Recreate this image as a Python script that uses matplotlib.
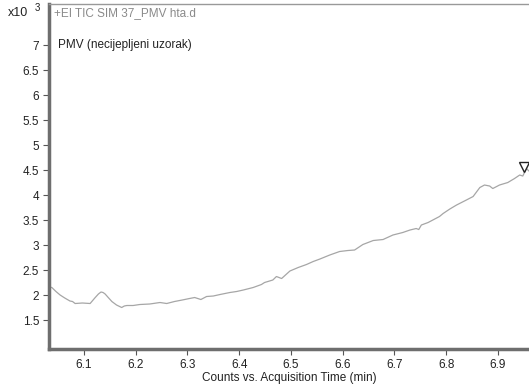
import matplotlib.pyplot as plt
from matplotlib.ticker import FuncFormatter

plt.rcParams['font.family'] = ['Liberation Sans', 'DejaVu Sans']

# acquisition time (min) and counts (x10^3)
time_min = [6.033, 6.038, 6.046, 6.054, 6.063, 6.073, 6.078, 6.083, 6.097, 6.112,
            6.121, 6.128, 6.133, 6.137, 6.141, 6.147, 6.154, 6.163, 6.173, 6.178,
            6.183, 6.195, 6.208, 6.227, 6.247, 6.260, 6.275, 6.290, 6.304, 6.314,
            6.326, 6.337, 6.350, 6.363, 6.382, 6.395, 6.408, 6.427, 6.443, 6.449,
            6.465, 6.472, 6.482, 6.498, 6.514, 6.530, 6.543, 6.556, 6.575, 6.594,
            6.610, 6.623, 6.639, 6.659, 6.678, 6.697, 6.716, 6.730, 6.742, 6.747,
            6.752, 6.765, 6.787, 6.794, 6.807, 6.820, 6.839, 6.852, 6.865, 6.874,
            6.884, 6.890, 6.903, 6.919, 6.932, 6.942, 6.948, 6.955, 6.960]
counts = [2.16, 2.15, 2.07, 2.00, 1.94, 1.88, 1.87, 1.83, 1.84, 1.83,
          1.94, 2.02, 2.06, 2.05, 2.02, 1.95, 1.87, 1.80, 1.75, 1.78,
          1.79, 1.79, 1.81, 1.82, 1.85, 1.83, 1.87, 1.90, 1.93, 1.95,
          1.91, 1.97, 1.98, 2.01, 2.05, 2.07, 2.10, 2.15, 2.21, 2.25,
          2.30, 2.37, 2.33, 2.48, 2.55, 2.61, 2.67, 2.72, 2.80, 2.87,
          2.89, 2.90, 3.01, 3.09, 3.11, 3.20, 3.25, 3.30, 3.33, 3.31,
          3.40, 3.45, 3.57, 3.63, 3.72, 3.80, 3.90, 3.97, 4.15, 4.20,
          4.18, 4.13, 4.20, 4.25, 4.33, 4.40, 4.38, 4.53, 4.48]
marker_time = [6.951]
marker_counts = [4.56]
y_ticks = [1.5, 2, 2.5, 3, 3.5, 4, 4.5, 5, 5.5, 6, 6.5, 7]
x_ticks = [6.1, 6.2, 6.3, 6.4, 6.5, 6.6, 6.7, 6.8, 6.9]

fig = plt.figure(figsize=(5.29, 3.85), dpi=100)
ax = fig.add_axes([0.0926, 0.0935, 0.9074, 0.896])

ax.plot(time_min, counts, color='#a6a6a6', lw=0.9)
ax.plot(marker_time, marker_counts, marker='v', ms=7, mfc='white',
        mec='#222222', mew=1.0, ls='none', clip_on=False)

ax.set_xlim(6.0325, 6.96)
ax.set_ylim(0.92, 7.82)
ax.set_xticks(x_ticks)
ax.set_yticks(y_ticks)
ax.yaxis.set_major_formatter(FuncFormatter(lambda v, p: f'{v:g}'))
ax.tick_params(labelsize=8.5, colors='#222222', length=4, width=0.8, pad=3)
ax.tick_params(axis='both', color='#555555')

for side in ['left', 'bottom']:
    ax.spines[side].set_color('#6e6e6e')
    ax.spines[side].set_linewidth(2.5)
ax.spines['top'].set_color('#999999')
ax.spines['top'].set_linewidth(1.0)
ax.spines['right'].set_visible(False)

ax.set_xlabel('Counts vs. Acquisition Time (min)', fontsize=8.5, color='#222222', labelpad=1)

fig.text(0.015, 0.958, 'x10', fontsize=9, color='#222222')
fig.text(0.066, 0.972, '3', fontsize=7, color='#222222')
fig.text(0.103, 0.958, '+EI TIC SIM 37_PMV hta.d', fontsize=8.5, color='#8a8a8a')
fig.text(0.11, 0.876, 'PMV (necijepljeni uzorak)', fontsize=8.5, color='#222222')

fig.savefig('out.png', dpi=100)
